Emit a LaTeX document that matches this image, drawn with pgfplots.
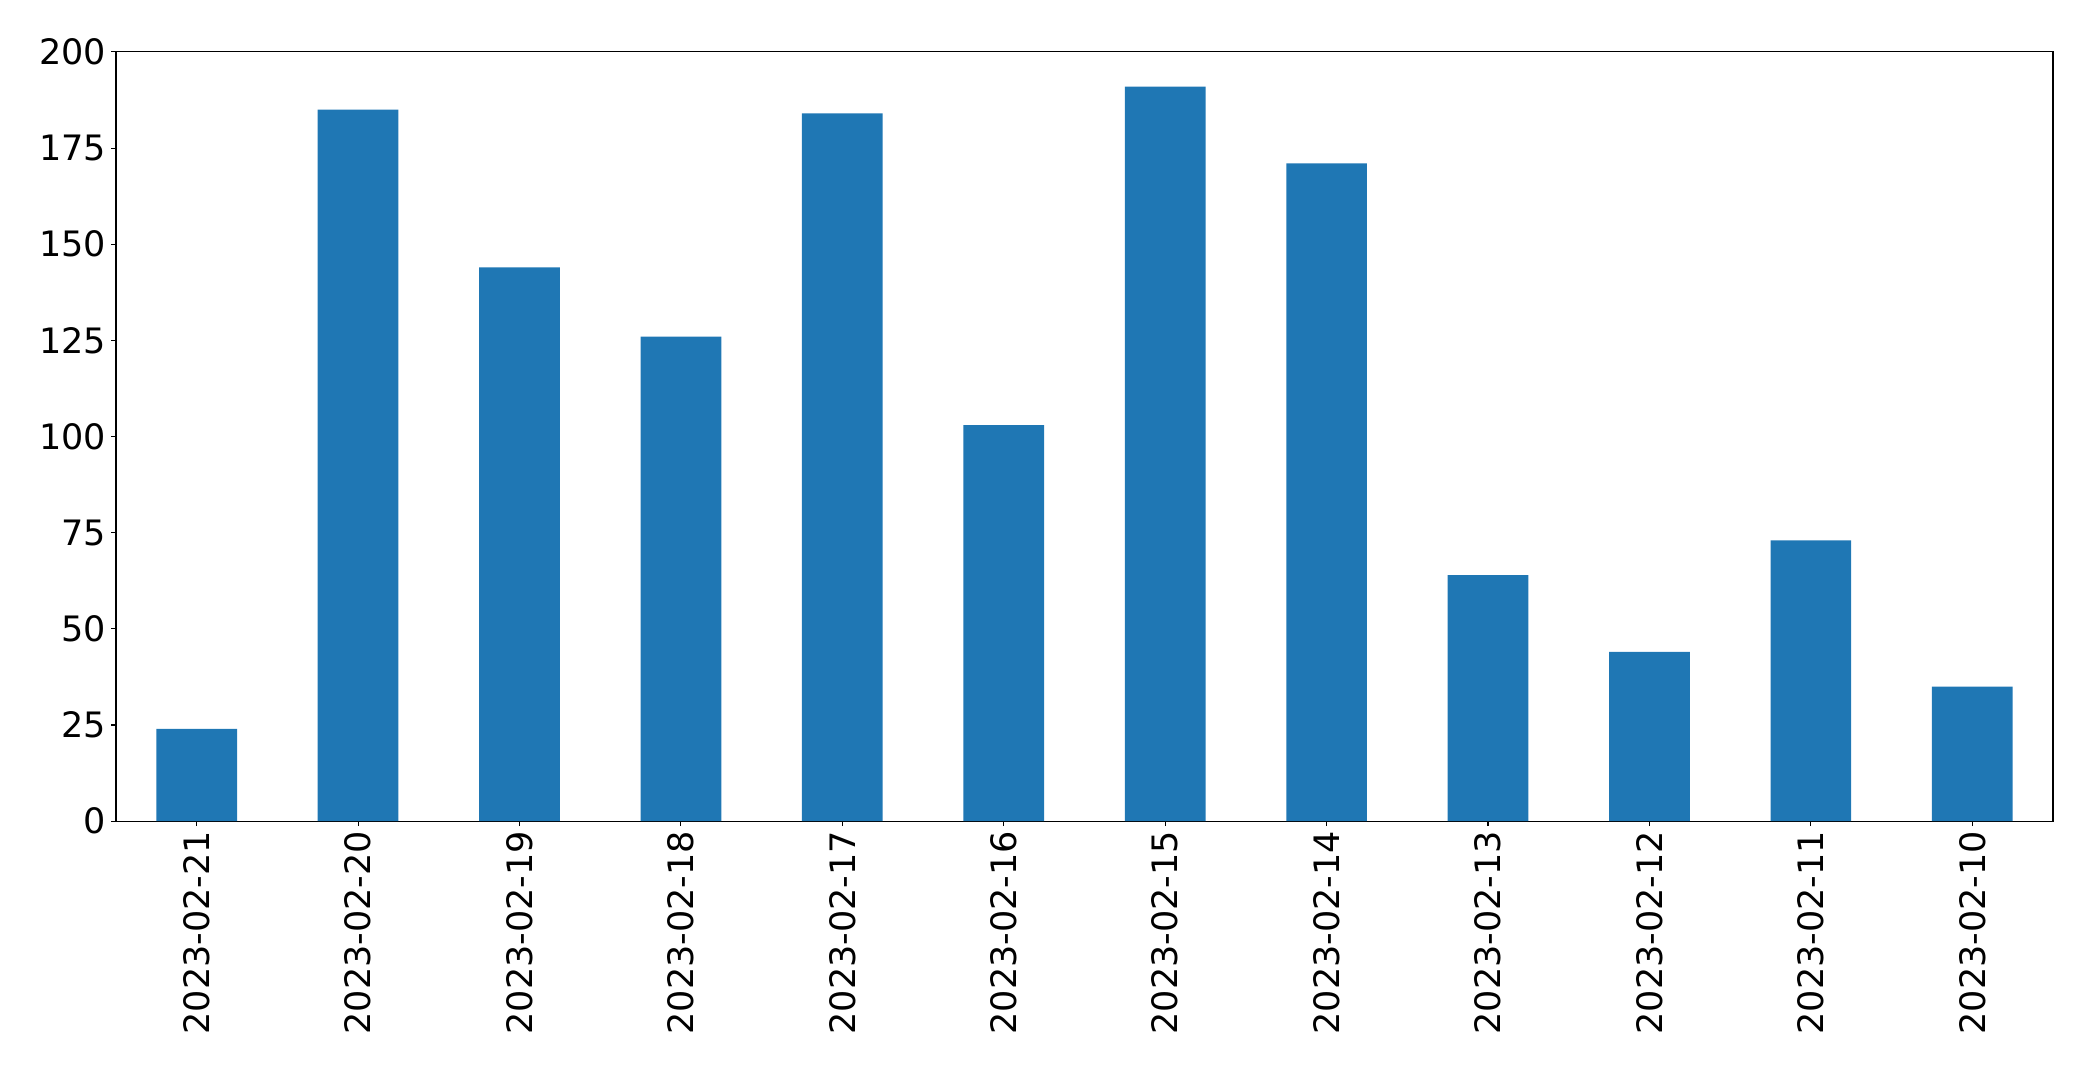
\documentclass[border=0pt]{standalone}
\usepackage{fontspec}
\setmainfont{DejaVu Sans}
\usepackage{pgfplots}
\pgfplotsset{compat=1.18}
\definecolor{mplblue}{HTML}{1F77B4}
\begin{document}
\begin{tikzpicture}
\begin{axis}[
  scale only axis,
  width=1395pt, height=554pt,
  xmin=-0.5, xmax=11.5,
  ymin=0, ymax=200,
  ytick={0,25,50,75,100,125,150,175,200},
  xtick={0,...,11},
  xticklabels={2023-02-21,2023-02-20,2023-02-19,2023-02-18,2023-02-17,2023-02-16,2023-02-15,2023-02-14,2023-02-13,2023-02-12,2023-02-11,2023-02-10},
  x tick label style={rotate=90, anchor=east},
  tick label style={font=\fontsize{25.2}{29}\selectfont},
  /pgf/number format/assume math mode=true,
  tick pos=left,
  tick align=outside,
  major tick length=3.5pt,
  axis line style={line width=0.8pt},
  every tick/.style={line width=0.8pt, black},
  ybar, bar width=0.5,
]
\addplot[fill=mplblue, draw=none] coordinates {
(0,24) (1,185) (2,144) (3,126) (4,184) (5,103) (6,191) (7,171) (8,64) (9,44) (10,73) (11,35)
};
\coordinate (sw) at (rel axis cs:0,0);
\coordinate (ne) at (rel axis cs:1,1);
\end{axis}
\path (sw) ++(-83.5pt,-181.4pt) rectangle ([shift={(28.8pt,37.4pt)}]ne);
\end{tikzpicture}
\end{document}
